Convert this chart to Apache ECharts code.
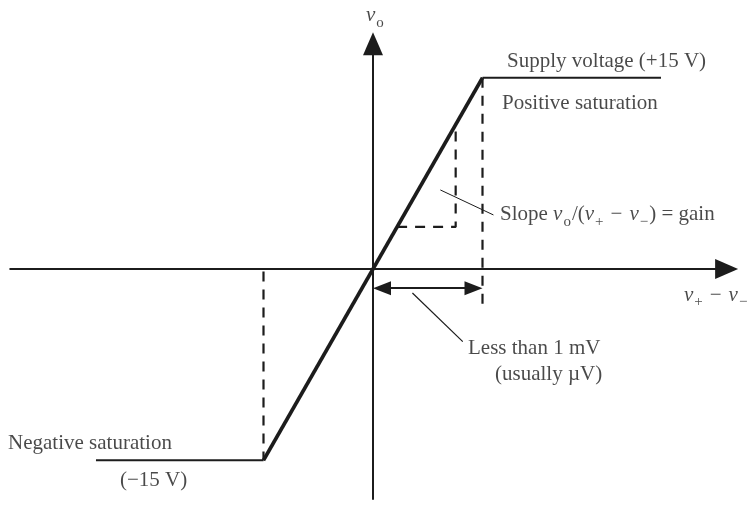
<!DOCTYPE html>
<html>
<head>
<meta charset="utf-8">
<script src="https://cdn.jsdelivr.net/npm/echarts@6/dist/echarts.min.js"></script>
<style>html,body{margin:0;padding:0;background:#fff}#c{width:750px;height:505px}</style>
</head>
<body>
<div id="c"></div>
<script>
// ---- data (x in mV-ish units of v+ - v-, y in volts) ----
const slopeX = [-1, 1];
const slopeY = [-15, 15];
const posSatX = [1, 2.63];
const posSatY = [15, 15];
const negSatX = [-2.53, -1];
const negSatY = [-15, -15];
const xAxisExtent = [-3.32, 3.33];
const yAxisExtent = [-18.1, 18.6];
const dashRightX = [1, 1];
const dashRightY = [15, -2.8];
const dashLeftX = [-1, -1];
const dashLeftY = [-0.2, -15];
const gainTriX = [0.22, 0.755, 0.755];
const gainTriY = [3.3, 3.3, 11.4];
const spanX = [0, 1];
const spanY = [-1.5, -1.5];
const leaderSlopeX = [0.615, 1.10];
const leaderSlopeY = [6.2, 4.24];
const leaderSpanX = [0.36, 0.82];
const leaderSpanY = [-1.88, -5.7];
const labelTexts = [
  'Supply voltage (+15 V)',
  'Positive saturation',
  '{t|Slope }{i|v}{s|o}{t|/(}{i|v}{s|+}{m|−}{i|v}{s|−}{t|) = gain}',
  'Less than 1 mV',
  '(usually µV)',
  '{i|v}{s|+}{m|−}{i|v}{s|−}',
  '{i|v}{s|o}',
  'Negative saturation',
  '(−15 V)'
];
const labelX = [1.224, 1.178, 1.16, 0.868, 1.114, 2.84, -0.064, -3.333, -2.311];
const labelY = [16.24, 13.02, 4.24, -6.2, -8.31, -2.04, 19.9, -13.65, -16.55];

// ---- layout (pixels) ----
const W = 750, H = 505;
const OX = 373, OY = 269, PXX = 109.5, PXY = 12.75;
const INK = '#1c1c1c';
const FONT = '"Liberation Serif","DejaVu Serif",serif';

const pts = (xs, ys) => xs.map((x, i) => [x, ys[i]]);

// inset an arrow end by half of head length (pixels) so the tip sits on the endpoint
function inset(p, q, px) {
  const dxp = (q[0] - p[0]) * PXX, dyp = (q[1] - p[1]) * PXY;
  const len = Math.hypot(dxp, dyp);
  return [q[0] - dxp / len * px / PXX, q[1] - dyp / len * px / PXY];
}

const rich = {
  t: {fontSize: 21, fontFamily: FONT, color: INK, lineHeight: 30, verticalAlign: 'middle'},
  m: {fontSize: 21, fontFamily: FONT, color: INK, lineHeight: 30, verticalAlign: 'middle', padding: [0, 7, 0, 6]},
  i: {fontSize: 21, fontFamily: FONT, color: INK, fontStyle: 'italic', lineHeight: 30, verticalAlign: 'middle'},
  s: {fontSize: 15, fontFamily: FONT, color: INK, lineHeight: 15, verticalAlign: 'bottom', padding: [0, 1, 0, 1]}
};

const xA0 = [xAxisExtent[0], 0], xA1 = [xAxisExtent[1], 0];
const yA0 = [0, yAxisExtent[0]], yA1 = [0, yAxisExtent[1]];
const xTip = inset(xA0, xA1, 11), yTip = inset(yA0, yA1, 12);
const s0 = [spanX[0], spanY[0]], s1 = [spanX[1], spanY[1]];
const sA = inset(s1, s0, 9), sB = inset(s0, s1, 9);

const lineSeries = (data, width, type) => ({
  type: 'line', data, symbol: 'none', silent: true, clip: false,
  lineStyle: {color: INK, width, type: type || 'solid'}
});

const option = {
  animation: false,
  backgroundColor: '#fff',
  grid: {left: 0, right: 0, top: 0, bottom: 0},
  xAxis: {type: 'value', min: -OX / PXX, max: (W - OX) / PXX, show: false},
  yAxis: {type: 'value', min: -(H - OY) / PXY, max: OY / PXY, show: false},
  series: [
    {
      type: 'line', data: [], symbol: 'none', silent: true,
      markLine: {
        silent: true, animation: false,
        symbol: ['none', 'triangle'], symbolSize: [20, 23],
        label: {show: false},
        lineStyle: {color: INK, width: 2, type: 'solid'},
        data: [
          [{coord: xA0}, {coord: xTip}],
          [{coord: yA0}, {coord: yTip}],
          [{coord: sA, symbol: 'triangle', symbolSize: [14, 18]},
           {coord: sB, symbol: 'triangle', symbolSize: [14, 18]}]
        ]
      }
    },
    lineSeries(pts(dashRightX, dashRightY), 2.2, [10, 8]),
    lineSeries(pts(dashLeftX, dashLeftY), 2.2, [10, 8]),
    lineSeries(pts(gainTriX, gainTriY), 2.2, [10, 8]),
    lineSeries(pts(posSatX, posSatY), 2),
    lineSeries(pts(negSatX, negSatY), 2),
    lineSeries(pts(slopeX, slopeY), 3.6),
    lineSeries(pts(leaderSlopeX, leaderSlopeY), 1),
    lineSeries(pts(leaderSpanX, leaderSpanY), 1.2),
    {
      type: 'scatter', symbolSize: 0, silent: true,
      data: labelTexts.map((t, i) => ({
        value: [labelX[i], labelY[i]],
        label: {
          show: true, position: 'inside', align: 'left', verticalAlign: 'middle',
          formatter: t, rich,
          fontSize: 21, fontFamily: FONT, color: INK
        }
      }))
    }
  ]
};

echarts.init(document.getElementById('c'), null, {renderer: 'canvas'}).setOption(option);
</script>
</body>
</html>
